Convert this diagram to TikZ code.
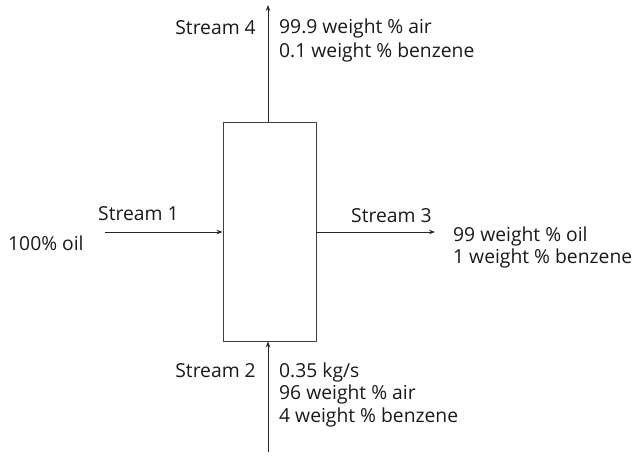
\documentclass[tikz,border=0pt]{standalone}
\usepackage{fontspec}
\setmainfont{Open Sans}
\usetikzlibrary{arrows.meta}
\begin{document}
\begin{tikzpicture}[x=1pt,y=-1pt,
  flow/.style={draw=black!85,line width=0.9pt,-{Stealth[length=6pt,width=4.5pt]}},
  lbl/.style={inner sep=0pt,font=\fontsize{19.3}{22}\selectfont,text=black!90},
  unit/.style={draw=black!75,line width=0.9pt}]
\useasboundingbox (0,0) rectangle (639,457);
\node[unit,minimum width=93pt,minimum height=219pt,inner sep=0pt] (col) at (269.5,231.5) {};
\coordinate (s1) at (105,232);
\coordinate (s2) at (268,452);
\coordinate (s3) at (435,232);
\coordinate (s4) at (268,5);
\draw[flow] (s1) -- (s1 -| col.west);
\draw[flow] (s2) -- (s2 |- col.south);
\draw[flow] (col.east |- s3) -- (s3);
\draw[flow] (s4 |- col.north) -- (s4);
\node[lbl,anchor=east] (l4) at (256,28) {Stream 4};
\node[lbl,anchor=west] (c4a) at (279,28) {99.9 weight \% air};
\node[lbl,anchor=west] (c4b) at (279,52) {0.1 weight \% benzene};
\node[lbl,anchor=west] (l1) at (98,214) {Stream 1};
\node[lbl,anchor=west] (c1) at (8,243) {100\% oil};
\node[lbl,anchor=west] (l3) at (351,216) {Stream 3};
\node[lbl,anchor=west] (c3a) at (453,236) {99 weight \% oil};
\node[lbl,anchor=west] (c3b) at (453,258) {1 weight \% benzene};
\node[lbl,anchor=east] (l2) at (256,371) {Stream 2};
\node[lbl,anchor=west] (c2a) at (279,372) {0.35 kg/s};
\node[lbl,anchor=west] (c2b) at (279,394) {96 weight \% air};
\node[lbl,anchor=west] (c2c) at (279,417) {4 weight \% benzene};
\end{tikzpicture}
\end{document}
